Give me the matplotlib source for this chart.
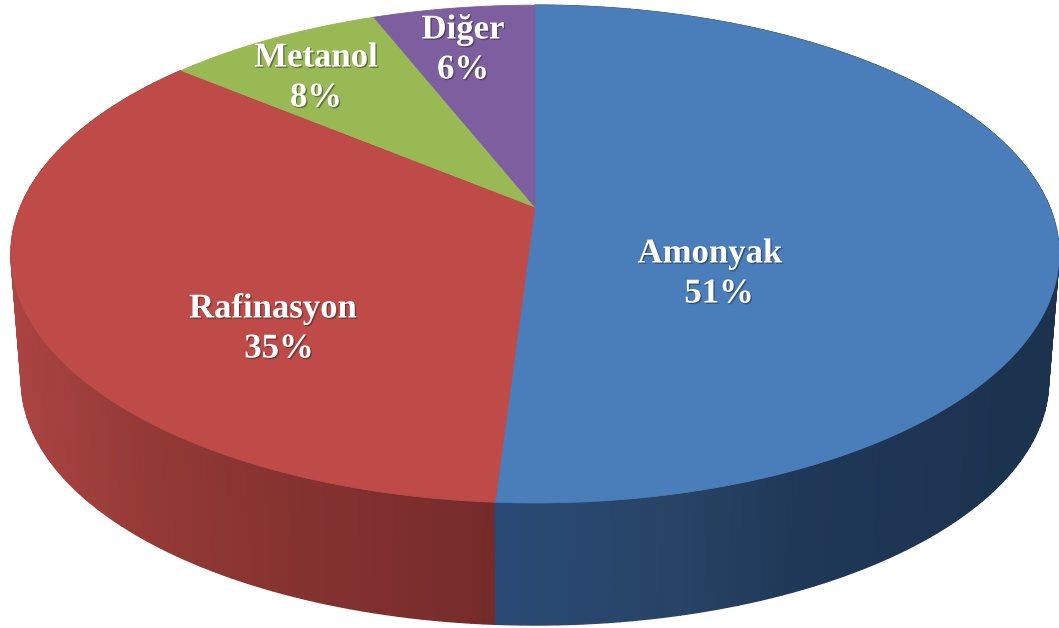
import numpy as np
import matplotlib
matplotlib.use("Agg")
import matplotlib.pyplot as plt
import matplotlib.patheffects as pe
from matplotlib.colors import to_rgb

# Shares of consumption by sector, clockwise from twelve o'clock
categories = ["Amonyak", "Rafinasyon", "Metanol", "Diğer"]
shares = [51, 35, 8, 6]
top_colors = ["#4A7EBB", "#BE4B48", "#98B954", "#7D5FA0"]

# Side wall shading: screen x against colour for each visible slice
wall_shades = {
    "Amonyak": ([497, 650, 800, 1000, 1059],
                ["#2A4A75", "#284568", "#203858", "#1C3350", "#1C3350"]),
    "Rafinasyon": ([0, 30, 150, 240, 497],
                   ["#B04744", "#A84341", "#943A36", "#8A3532", "#752B2B"]),
}

W, H = 1059, 628
fig = plt.figure(figsize=(W / 100, H / 100), dpi=100, facecolor="white")
ax = fig.add_axes([0, 0, 1, 1])
ax.set_xlim(0, W)
ax.set_ylim(H, 0)
ax.axis("off")

# Perspective projection of the pie disc
CX, CY = 535.0, 207.0
K, A, B = 0.189, 514.6, 240.0


def project(theta, radius=1.0, scale=1.0, drop=0.0):
    """Map a clockwise angle from the top of the disc to screen coordinates."""
    x = radius * np.sin(theta)
    y = radius * np.cos(theta)
    w = 1 + K * y
    return CX + scale * A * x / w, CY + drop - scale * B * y / w


edges = np.radians(np.concatenate([[0], np.cumsum(shares)]) / sum(shares) * 360)

# Side wall, back to front, so that nearer strips cover farther ones
strips = []
for name, start, stop in zip(categories, edges[:-1], edges[1:]):
    if name not in wall_shades:
        continue
    xs, cols = wall_shades[name]
    rgb = np.array([to_rgb(c) for c in cols])
    bounds = np.linspace(start, stop, int((stop - start) / 0.02) + 1)
    for a0, a1 in zip(bounds[:-1], bounds[1:]):
        t = np.linspace(a0, a1, 4)
        tx, ty = project(t)
        bx, by = project(t, scale=0.98, drop=128.0)
        mid = (tx.mean() + bx.mean()) / 2
        colour = [np.interp(mid, xs, rgb[:, i]) for i in range(3)]
        strips.append((ty.mean(), np.r_[tx, bx[::-1]], np.r_[ty, by[::-1]], colour))
for _, px, py, colour in sorted(strips, key=lambda s: s[0]):
    ax.fill(px, py, color=colour, lw=1.0, zorder=1)

# Top face
for name, start, stop, colour in zip(categories, edges[:-1], edges[1:], top_colors):
    t = np.linspace(start, stop, 300)
    rx, ry = project(t)
    ax.fill(np.r_[CX, rx], np.r_[CY, ry], color=colour, lw=0.6, zorder=2)

# Data labels: category name above its percentage
effects = [pe.withSimplePatchShadow(offset=(1, -1), shadow_rgbFace="#222222", alpha=0.45)]
name_spots = [(710, 254), (273, 309), (316, 58), (463, 30)]
share_spots = [(719, 294), (279, 349), (316, 98), (463, 70)]
for name, share, n_xy, s_xy in zip(categories, shares, name_spots, share_spots):
    for text, (lx, ly) in ((name, n_xy), (f"{share}%", s_xy)):
        ax.text(lx, ly, text, ha="center", va="center", color="white",
                family="Liberation Serif", fontweight="bold", fontsize=25,
                zorder=3, path_effects=effects)

fig.savefig("out.png", dpi=100, facecolor="white")
